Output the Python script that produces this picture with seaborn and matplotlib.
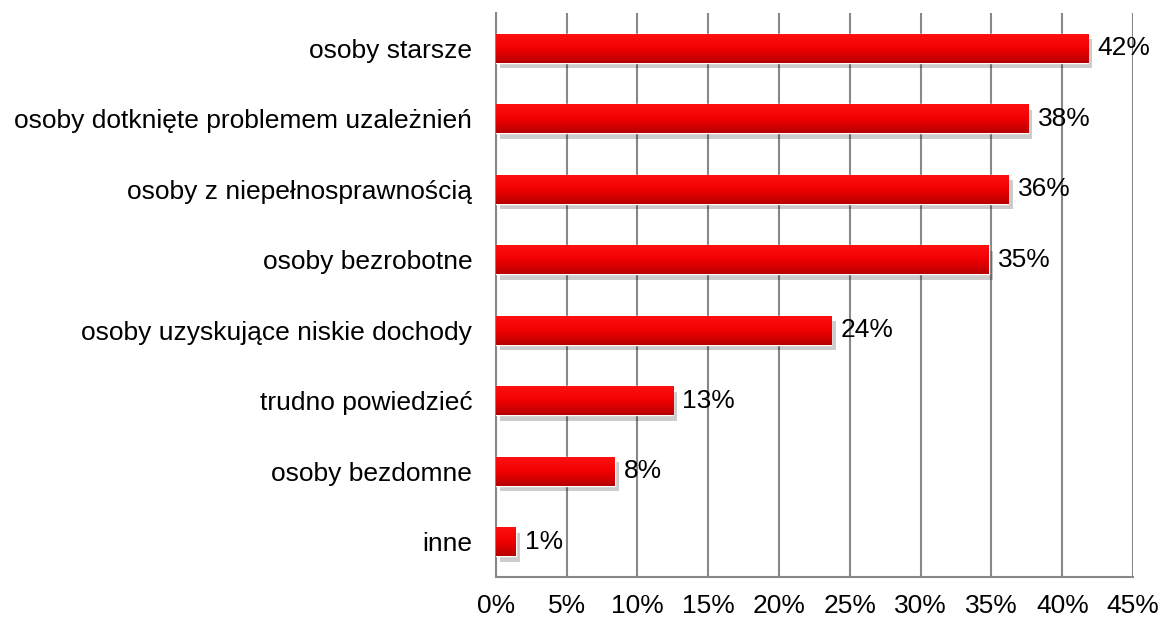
import numpy as np
import pandas as pd
import seaborn as sns
import matplotlib.pyplot as plt
import matplotlib.patheffects as pe
from matplotlib.colors import LinearSegmentedColormap

# dane
categories = [
    "osoby starsze",
    "osoby dotknięte problemem uzależnień",
    "osoby z niepełnosprawnością",
    "osoby bezrobotne",
    "osoby uzyskujące niskie dochody",
    "trudno powiedzieć",
    "osoby bezdomne",
    "inne",
]
values = [41.8, 37.6, 36.2, 34.8, 23.7, 12.5, 8.4, 1.4]
value_labels = ["42%", "38%", "36%", "35%", "24%", "13%", "8%", "1%"]
x_ticks = [0, 5, 10, 15, 20, 25, 30, 35, 40, 45]
x_tick_labels = [f"{t}%" for t in x_ticks]

df = pd.DataFrame({"kategoria": categories, "procent": values})

sns.set_style("white")
plt.rcParams["font.family"] = ["Liberation Sans", "DejaVu Sans"]

grey = "#888888"
fs = 19
fig, ax = plt.subplots(figsize=(11.61, 6.21), dpi=100)
fig.subplots_adjust(left=0.427, right=0.976, top=0.979, bottom=0.071)

sns.barplot(data=df, x="procent", y="kategoria", color="#e00000",
            saturation=1, width=0.41, ax=ax, zorder=3)

# gradient na słupkach + cień
red_grad = LinearSegmentedColormap.from_list("redgrad", ["#ff1010", "#f00000", "#b80000"])
grad = np.linspace(0, 1, 64).reshape(-1, 1)
for bar in ax.patches:
    x0, y0 = bar.get_x(), bar.get_y()
    w, h = bar.get_width(), bar.get_height()
    bar.set_path_effects([pe.SimplePatchShadow(offset=(3, -4), shadow_rgbFace="k", alpha=0.2),
                          pe.Normal()])
    img = ax.imshow(grad, cmap=red_grad, aspect="auto", extent=[x0, x0 + w, y0 + h, y0],
                    origin="upper", zorder=4, interpolation="bilinear")
    img.set_clip_path(bar)

for i, (v, lab) in enumerate(zip(values, value_labels)):
    ax.text(v + 0.65, i, lab, va="center", ha="left", fontsize=fs, color="black", zorder=5)

ax.set_xlim(0, 45)
ax.set_ylim(len(categories) - 0.5, -0.5)
ax.set_xticks(x_ticks)
ax.set_xticklabels(x_tick_labels)
ax.set_yticks(range(len(categories)))
ax.set_yticks(np.arange(-0.5, len(categories), 1), minor=True)
ax.tick_params(axis="y", which="major", length=0, pad=17, labelsize=fs, labelcolor="black")
ax.tick_params(axis="y", which="minor", length=8, width=1.5, color=grey)
ax.tick_params(axis="x", which="major", length=8, width=1.5, color=grey, labelsize=fs,
               labelcolor="black", pad=4)

ax.xaxis.grid(True, color=grey, linewidth=1.5, zorder=0)
ax.set_axisbelow(True)
sns.despine(ax=ax, top=True, right=True)
for s in ["left", "bottom"]:
    ax.spines[s].set_color(grey)
    ax.spines[s].set_linewidth(1.5)

ax.set_xlabel("")
ax.set_ylabel("")

plt.savefig("out.png", dpi=100)
